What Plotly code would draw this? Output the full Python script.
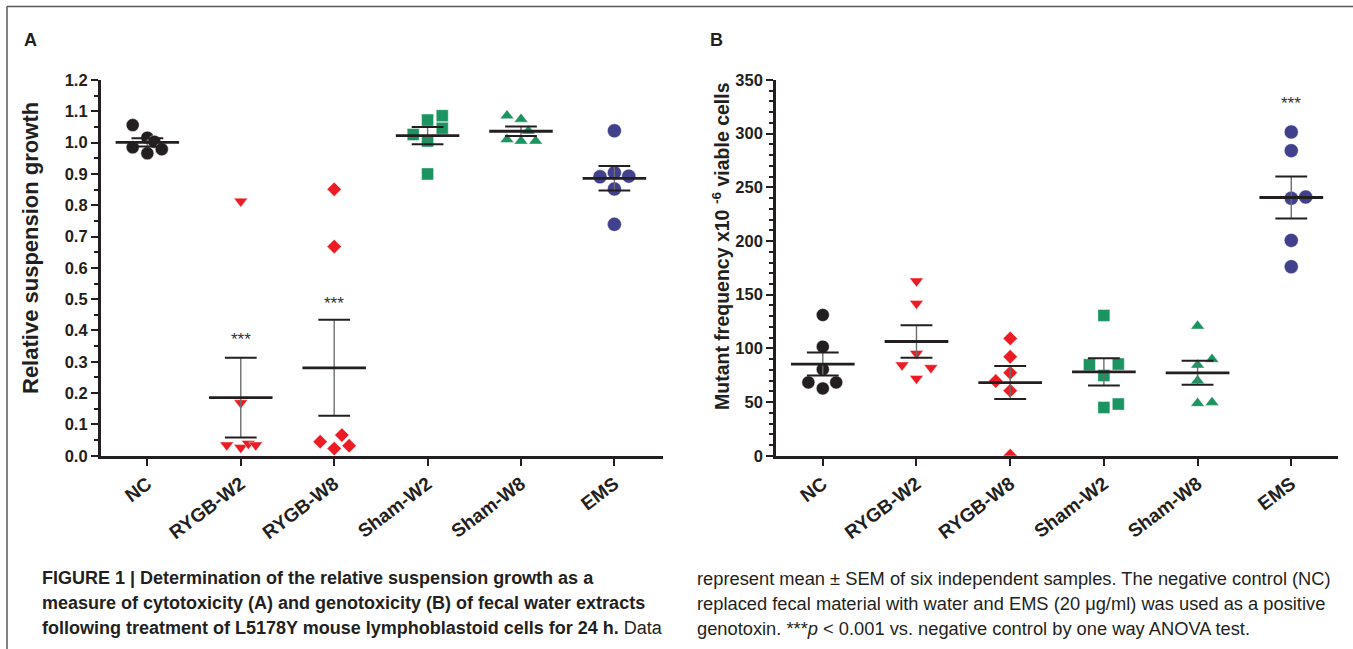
import numpy as np
import plotly.graph_objects as go

# ---------------- data ----------------
categories = ["NC", "RYGB-W2", "RYGB-W8", "Sham-W2", "Sham-W8", "EMS"]

# Panel A: relative suspension growth
growth_nc = [1.056, 1.016, 1.003, 0.985, 0.966, 0.979]
growth_rygb_w2 = [0.813, 0.169, 0.034, 0.026, 0.039, 0.034]
growth_rygb_w8 = [0.851, 0.668, 0.045, 0.023, 0.066, 0.032]
growth_sham_w2 = [1.072, 1.086, 1.046, 1.026, 1.005, 0.900]
growth_sham_w8 = [1.086, 1.075, 1.037, 1.010, 1.005, 1.005]
growth_ems = [1.038, 0.904, 0.891, 0.893, 0.852, 0.739]

# Panel B: mutant frequency x10^-6 viable cells
mf_nc = [131.1, 101.6, 80.4, 68.3, 68.3, 62.7]
mf_rygb_w2 = [162.7, 141.9, 95.3, 84.5, 82.0, 72.0]
mf_rygb_w8 = [109.3, 92.2, 77.3, 69.6, 60.6, 0.0]
mf_sham_w2 = [130.7, 84.8, 85.4, 74.8, 45.0, 48.1]
mf_sham_w8 = [120.8, 89.8, 84.5, 69.9, 48.8, 49.7]
mf_ems = [301.6, 284.2, 239.8, 241.0, 200.6, 176.1]

# significance marks: (category index, y position)
stars_a = [(1, 0.372), (2, 0.487)]
stars_b = [(5, 328.0)]

# ---------------- layout helpers (positions / styles) ----------------
jitter_a = [
    [-0.157, 0.0, 0.075, -0.157, 0.0, 0.154],
    [0.0, 0.0, -0.15, 0.0, 0.082, 0.16],
    [0.0, 0.0, -0.15, 0.0, 0.082, 0.16],
    [0.0, 0.157, 0.157, -0.154, 0.0, 0.0],
    [-0.15, 0.0, 0.079, -0.15, 0.0, 0.157],
    [0.0, 0.0, -0.154, 0.154, 0.0, 0.0],
]
jitter_b = [
    [0.0, 0.0, 0.0, -0.154, 0.143, 0.0],
    [0.0, 0.0, 0.0, -0.154, 0.154, 0.0],
    [0.0, 0.0, 0.0, -0.154, 0.0, 0.0],
    [0.0, -0.154, 0.154, 0.0, 0.0, 0.154],
    [0.0, 0.154, 0.0, 0.0, 0.0, 0.154],
    [0.0, 0.0, 0.0, 0.154, 0.0, 0.0],
]

BLACK = "#231f20"
RED = "#ed1c24"
GREEN = "#1b9461"
NAVY = "#40408c"
styles = [
    dict(symbol="circle", color=BLACK, size=13),
    dict(symbol="triangle-down", color=RED, size=12),
    dict(symbol="diamond", color=RED, size=11),
    dict(symbol="square", color=GREEN, size=12),
    dict(symbol="triangle-up", color=GREEN, size=12),
    dict(symbol="circle", color=NAVY, size=14),
]

groups_a = [growth_nc, growth_rygb_w2, growth_rygb_w8, growth_sham_w2, growth_sham_w8, growth_ems]
groups_b = [mf_nc, mf_rygb_w2, mf_rygb_w8, mf_sham_w2, mf_sham_w8, mf_ems]

fig = go.Figure()


def add_panel(groups, jitter, xa, ya):
    # markers
    for i, (vals, st) in enumerate(zip(groups, styles)):
        xs = [i + j for j in jitter[i]]
        fig.add_trace(go.Scatter(
            x=xs, y=vals, mode="markers", xaxis=xa, yaxis=ya, showlegend=False,
            marker=dict(symbol=st["symbol"], color=st["color"], size=st["size"],
                        line=dict(color="rgba(255,255,255,0.7)", width=0.6)),
            hoverinfo="y"))
    # mean +/- SEM
    vx, vy, cx, cy, mx, my = [], [], [], [], [], []
    for i, vals in enumerate(groups):
        a = np.array(vals, dtype=float)
        m = a.mean()
        s = a.std(ddof=1) / np.sqrt(len(a))
        vx += [i, i, None]
        vy += [m - s, m + s, None]
        cx += [i - 0.17, i + 0.17, None, i - 0.17, i + 0.17, None]
        cy += [m - s, m - s, None, m + s, m + s, None]
        mx += [i - 0.34, i + 0.34, None]
        my += [m, m, None]
    fig.add_trace(go.Scatter(x=vx, y=vy, mode="lines", xaxis=xa, yaxis=ya, showlegend=False,
                             line=dict(color="#6d6e70", width=1.4), hoverinfo="skip"))
    fig.add_trace(go.Scatter(x=cx, y=cy, mode="lines", xaxis=xa, yaxis=ya, showlegend=False,
                             line=dict(color=BLACK, width=2), hoverinfo="skip"))
    fig.add_trace(go.Scatter(x=mx, y=my, mode="lines", xaxis=xa, yaxis=ya, showlegend=False,
                             line=dict(color=BLACK, width=2.8), hoverinfo="skip"))


add_panel(groups_a, jitter_a, "x", "y")
add_panel(groups_b, jitter_b, "x2", "y2")

star_font = dict(family="Liberation Sans, Arial", size=17, color="#333333")
for (i, yv) in stars_a:
    fig.add_annotation(x=i, y=yv, xref="x", yref="y", text="***", showarrow=False, font=star_font)
for (i, yv) in stars_b:
    fig.add_annotation(x=i, y=yv, xref="x2", yref="y2", text="***", showarrow=False, font=star_font)

ydom = [0.2978, 0.8767]
ytickfont = dict(family="Liberation Sans, Arial", size=16.5, color=BLACK, weight="bold")
xtickfont = dict(family="Liberation Sans, Arial", size=19, color=BLACK, weight="bold")

xcommon = dict(
    tickmode="array", tickvals=list(range(len(categories))), ticktext=categories,
    showline=True, linecolor=BLACK, linewidth=2.6, ticks="outside", ticklen=7,
    tickwidth=2, tickcolor=BLACK, showgrid=False, zeroline=False, tickangle=-37,
    tickfont=xtickfont, fixedrange=True,
)
ycommon = dict(
    showline=True, linecolor=BLACK, linewidth=2.6, ticks="outside", ticklen=7,
    tickwidth=2, tickcolor=BLACK, showgrid=False, zeroline=False, tickfont=ytickfont,
    domain=ydom,
)

fig.update_layout(
    width=1353, height=649, margin=dict(l=0, r=0, t=0, b=0, autoexpand=False),
    paper_bgcolor="white", plot_bgcolor="white",
    xaxis=dict(domain=[0.0744, 0.490], range=[-0.5, 5.52], anchor="y", **xcommon),
    yaxis=dict(range=[0, 1.2], tickmode="linear", tick0=0, dtick=0.1, tickformat=".1f",
               anchor="x",
               minor=dict(dtick=0.05, ticklen=4, tickwidth=1.5, tickcolor=BLACK, ticks="outside"),
               **ycommon),
    xaxis2=dict(domain=[0.5735, 0.989], range=[-0.5, 5.5], anchor="y2", **xcommon),
    yaxis2=dict(range=[0, 350], tickmode="linear", tick0=0, dtick=50, anchor="x2",
                minor=dict(dtick=10, ticklen=4, tickwidth=1.5, tickcolor=BLACK, ticks="outside"),
                **ycommon),
)

# axis titles & panel letters
fig.add_annotation(x=30 / 1353, y=1 - 248 / 649, xref="paper", yref="paper",
                   text="<b>Relative suspension growth</b>",
                   textangle=-90, showarrow=False, xanchor="center", yanchor="middle",
                   font=dict(family="Liberation Sans, Arial", size=22, color=BLACK))
fig.add_annotation(x=721 / 1353, y=1 - 246 / 649, xref="paper", yref="paper",
                   text="<b>Mutant frequency x10 <sup>-6</sup> viable cells</b>",
                   textangle=-90, showarrow=False, xanchor="center", yanchor="middle",
                   font=dict(family="Liberation Sans, Arial", size=19.5, color=BLACK))
fig.add_annotation(x=22 / 1353, y=1 - 40 / 649, xref="paper", yref="paper", text="<b>A</b>",
                   showarrow=False, xanchor="left", yanchor="middle",
                   font=dict(family="Liberation Sans, Arial", size=18, color=BLACK))
fig.add_annotation(x=708 / 1353, y=1 - 40 / 649, xref="paper", yref="paper", text="<b>B</b>",
                   showarrow=False, xanchor="left", yanchor="middle",
                   font=dict(family="Liberation Sans, Arial", size=18, color=BLACK))

# caption
cap_font_l = dict(family="Liberation Sans Narrow, Liberation Sans, Arial", size=18, color=BLACK)
cap_font_r = dict(family="Liberation Sans Narrow, Liberation Sans, Arial", size=18.3, color=BLACK)
left_lines = [
    "<b>FIGURE 1 | Determination of the relative suspension growth as a</b>",
    "<b>measure of cytotoxicity (A) and genotoxicity (B) of fecal water extracts</b>",
    "<b>following treatment of L5178Y mouse lymphoblastoid cells for 24 h.</b> Data",
]
right_lines = [
    "represent mean ± SEM of six independent samples. The negative control (NC)",
    "replaced fecal material with water and EMS (20 μg/ml) was used as a positive",
    "genotoxin. ***<i>p</i> < 0.001 vs. negative control by one way ANOVA test.",
]
for k, (lt, rt) in enumerate(zip(left_lines, right_lines)):
    yy = 1 - (578 + 25 * k) / 649
    fig.add_annotation(x=40 / 1353, y=yy, xref="paper", yref="paper", text=lt, showarrow=False,
                       xanchor="left", yanchor="middle", font=cap_font_l)
    fig.add_annotation(x=695 / 1353, y=yy, xref="paper", yref="paper", text=rt, showarrow=False,
                       xanchor="left", yanchor="middle", font=cap_font_r)

# page border (top and left)
fig.add_shape(type="line", xref="paper", yref="paper", x0=7 / 1353, x1=1, y0=1 - 6.5 / 649, y1=1 - 6.5 / 649,
              line=dict(color="#58595b", width=1.5))
fig.add_shape(type="line", xref="paper", yref="paper", x0=7 / 1353, x1=7 / 1353, y0=0, y1=1 - 6.5 / 649,
              line=dict(color="#58595b", width=1.5))

fig.write_html(
    "out.html",
    config={"displayModeBar": False},
    post_script="document.body.style.margin='0';document.body.style.overflow='hidden';",
)
